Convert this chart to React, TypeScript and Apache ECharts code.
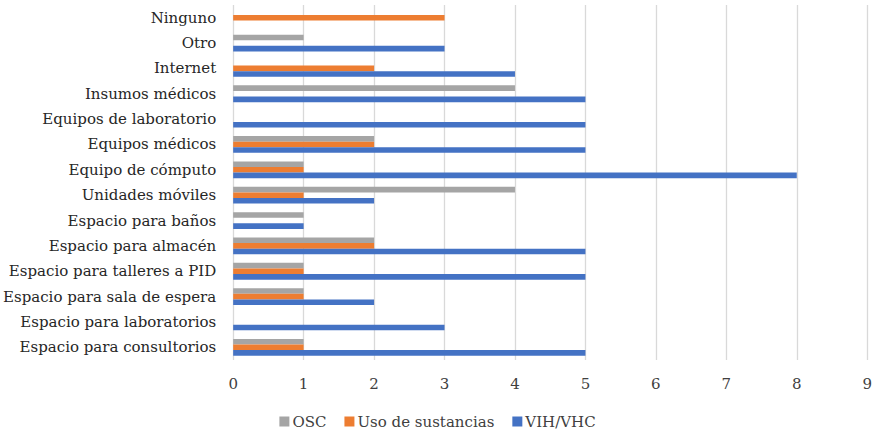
import React, { useEffect, useRef } from "react";
import * as echarts from "echarts";

// Categories listed bottom-to-top (ECharts draws the first category at the bottom)
const categories = [
  "Espacio para consultorios",
  "Espacio para laboratorios",
  "Espacio para sala de espera",
  "Espacio para talleres a PID",
  "Espacio para almacén",
  "Espacio para baños",
  "Unidades móviles",
  "Equipo de cómputo",
  "Equipos médicos",
  "Equipos de laboratorio",
  "Insumos médicos",
  "Internet",
  "Otro",
  "Ninguno",
];

const osc = [1, 0, 1, 1, 2, 1, 4, 1, 2, 0, 4, 0, 1, 0];
const usoSustancias = [1, 0, 1, 1, 2, 0, 1, 1, 2, 0, 0, 2, 0, 3];
const vihVhc = [5, 3, 2, 5, 5, 1, 2, 8, 5, 5, 5, 4, 3, 0];

const xTicks = { min: 0, max: 9, interval: 1 };

const FONT = "DejaVu Serif";

export default function App() {
  const ref = useRef<HTMLDivElement>(null);

  useEffect(() => {
    if (!ref.current) return;
    const chart = echarts.init(ref.current, undefined, { renderer: "svg", width: 875, height: 433 });
    const barBase = {
      type: "bar" as const,
      barWidth: 5.6,
      barGap: "0%",
    };
    chart.setOption({
      animation: false,
      textStyle: { fontFamily: FONT },
      grid: { left: 229, right: 3, top: 5, bottom: 73, containLabel: false },
      legend: {
        data: ["OSC", "Uso de sustancias", "VIH/VHC"],
        top: 413,
        left: "center",
        padding: 0,
        itemWidth: 10,
        itemHeight: 10,
        itemGap: 18,
        icon: "rect",
        textStyle: {
          fontFamily: FONT,
          fontSize: 15,
          lineHeight: 17,
          color: "#404040",
          padding: [0, 0, 0, -2],
        },
      },
      xAxis: {
        type: "value",
        min: xTicks.min,
        max: xTicks.max,
        interval: xTicks.interval,
        axisLine: { show: false },
        axisTick: { show: false },
        splitLine: { show: true, lineStyle: { color: "#d9d9d9", width: 1.3 } },
        axisLabel: { fontFamily: FONT, fontSize: 15, color: "#404040", margin: 16 },
      },
      yAxis: {
        type: "category",
        data: categories,
        axisLine: { show: false },
        axisTick: { show: false },
        axisLabel: { fontFamily: FONT, fontSize: 15, color: "#262626", margin: 17 },
      },
      series: [
        { ...barBase, name: "OSC", data: osc, itemStyle: { color: "#A5A5A5" } },
        { ...barBase, name: "Uso de sustancias", data: usoSustancias, itemStyle: { color: "#ED7D31" } },
        { ...barBase, name: "VIH/VHC", data: vihVhc, itemStyle: { color: "#4472C4" } },
      ],
    });
    return () => chart.dispose();
  }, []);

  return (
    <div
      ref={ref}
      style={{ position: "fixed", left: 0, top: 0, width: 875, height: 433, background: "#fff" }}
    />
  );
}
